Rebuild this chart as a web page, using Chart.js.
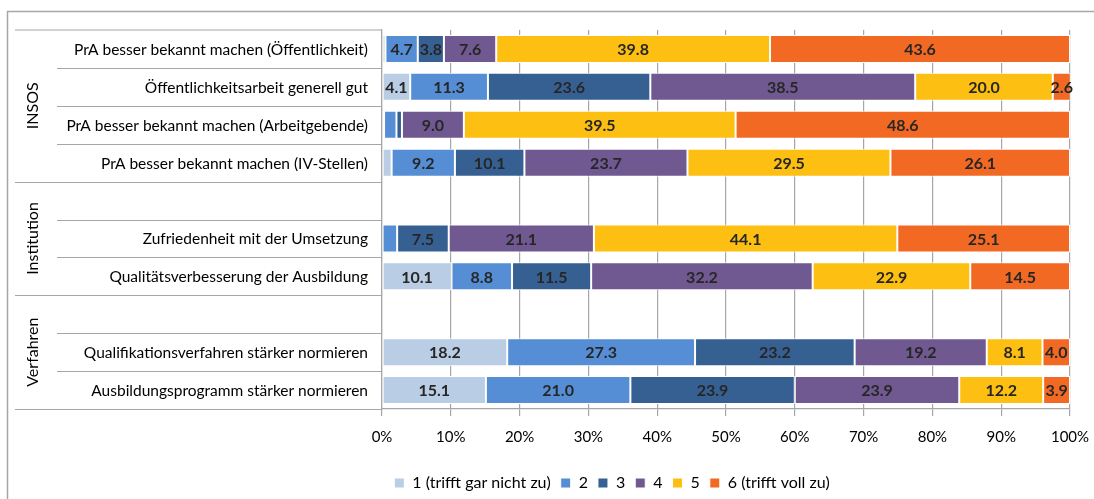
<!DOCTYPE html>
<html>
<head>
<meta charset="utf-8">
<script src="https://cdn.jsdelivr.net/npm/chart.js@4.4.0/dist/chart.umd.min.js"></script>
<style>
  html, body { margin: 0; padding: 0; background: #fff; }
  #wrap { width: 1094px; height: 499px; position: relative; }
</style>
</head>
<body>
<div id="wrap"><canvas id="chart"></canvas></div>
<script>
// Kategorien (leere Einträge = Abstand zwischen Gruppen)
const categories = [
  'PrA besser bekannt machen (Öffentlichkeit)',
  'Öffentlichkeitsarbeit generell gut',
  'PrA besser bekannt machen (Arbeitgebende)',
  'PrA besser bekannt machen (IV-Stellen)',
  '',
  'Zufriedenheit mit der Umsetzung',
  'Qualitätsverbesserung der Ausbildung',
  '',
  'Qualifikationsverfahren stärker normieren',
  'Ausbildungsprogramm stärker normieren'
];
const groupNames = ['INSOS', 'Institution', 'Verfahren'];
const groupFirst = [0, 4, 7];
const groupLast = [3, 6, 9];

const seriesNames = ['1 (trifft gar nicht zu)', '2', '3', '4', '5', '6 (trifft voll zu)'];
const s1 = [0.5, 4.1, 0.3, 1.4, null, 0, 10.1, null, 18.2, 15.1];
const s2 = [4.7, 11.3, 1.8, 9.2, null, 2.2, 8.8, null, 27.3, 21.0];
const s3 = [3.8, 23.6, 0.8, 10.1, null, 7.5, 11.5, null, 23.2, 23.9];
const s4 = [7.6, 38.5, 9.0, 23.7, null, 21.1, 32.2, null, 19.2, 23.9];
const s5 = [39.8, 20.0, 39.5, 29.5, null, 44.1, 22.9, null, 8.1, 12.2];
const s6 = [43.6, 2.6, 48.6, 26.1, null, 25.1, 14.5, null, 4.0, 3.9];
const xTicks = [0, 10, 20, 30, 40, 50, 60, 70, 80, 90, 100];

const colors = ['#B9CDE5', '#558ED5', '#366092', '#705890', '#FDBF11', '#F26924'];
const lineGray = '#a6a6a6';

Chart.defaults.font.family = 'Lato, "Liberation Sans", sans-serif';
Chart.defaults.color = '#000';

// Tabellenlinien, Beschriftungen, Gruppennamen, Rahmen und Werte
const decorations = {
  id: 'decorations',
  afterDraw(chart) {
    const ctx = chart.ctx;
    const area = chart.chartArea;
    const y = chart.scales.y;
    const rowH = y.getPixelForValue(1) - y.getPixelForValue(0);
    ctx.save();

    // Rahmen
    ctx.strokeStyle = lineGray;
    ctx.lineWidth = 1.5;
    ctx.beginPath();
    ctx.moveTo(7.5, 499);
    ctx.lineTo(7.5, 11.5);
    ctx.lineTo(1094, 11.5);
    ctx.stroke();

    // Linien der Beschriftungstabelle
    ctx.lineWidth = 1.2;
    ctx.beginPath();
    ctx.moveTo(15, area.top);
    ctx.lineTo(area.left, area.top);
    for (let i = 0; i < categories.length; i++) {
      const yb = y.getPixelForValue(i) + rowH / 2;
      const isGroupEnd = groupLast.includes(i);
      ctx.moveTo(isGroupEnd ? 15 : 57, Math.round(yb) + 0.5);
      ctx.lineTo(area.left, Math.round(yb) + 0.5);
    }
    ctx.stroke();

    // Kategorienbeschriftung
    ctx.fillStyle = '#000';
    ctx.font = '15.5px Lato, sans-serif';
    ctx.textAlign = 'right';
    ctx.textBaseline = 'middle';
    categories.forEach((c, i) => {
      if (c) ctx.fillText(c, area.left - 14, y.getPixelForValue(i) + 1);
    });

    // Gruppennamen senkrecht
    ctx.font = '16px Lato, sans-serif';
    ctx.textAlign = 'center';
    groupNames.forEach((name, g) => {
      const top = y.getPixelForValue(groupFirst[g]) - rowH / 2;
      const bottom = y.getPixelForValue(groupLast[g]) + rowH / 2;
      ctx.save();
      ctx.translate(33, (top + bottom) / 2);
      ctx.rotate(-Math.PI / 2);
      ctx.fillText(name, 0, 0);
      ctx.restore();
    });

    // Werte in den Balken
    ctx.font = 'bold 16px Lato, sans-serif';
    ctx.fillStyle = '#262626';
    chart.data.datasets.forEach((ds, di) => {
      const meta = chart.getDatasetMeta(di);
      meta.data.forEach((bar, i) => {
        const v = ds.data[i];
        if (v == null || v < 2.5) return;
        ctx.fillText(v.toFixed(1), (bar.x + bar.base) / 2, bar.y + 1);
      });
    });
    ctx.restore();
  }
};

new Chart(document.getElementById('chart'), {
  type: 'bar',
  data: {
    labels: categories,
    datasets: [s1, s2, s3, s4, s5, s6].map((d, i) => ({
      label: seriesNames[i],
      data: d,
      backgroundColor: colors[i],
      borderColor: '#ffffff',
      borderWidth: 1,
      borderSkipped: false,
      barPercentage: 0.74,
      categoryPercentage: 1
    }))
  },
  options: {
    indexAxis: 'y',
    responsive: true,
    maintainAspectRatio: false,
    animation: false,
    layout: { padding: { left: 154, right: 24, top: 30, bottom: -2 } },
    scales: {
      x: {
        stacked: true,
        min: 0,
        max: 100,
        afterBuildTicks: (s) => { s.ticks = xTicks.map(v => ({ value: v })); },
        ticks: {
          callback: (v) => v + '%',
          font: { size: 15 },
          padding: 12,
          maxRotation: 0
        },
        grid: { color: lineGray, lineWidth: 1.2, tickLength: 7 },
        border: { display: true, color: lineGray, width: 1.2 },
        afterFit: (s) => { s.height = 56; s.paddingRight = 0; s.paddingLeft = 0; }
      },
      y: {
        stacked: true,
        ticks: { display: false },
        grid: { display: false, drawTicks: false },
        border: { display: true, color: lineGray, width: 1.2 },
        afterFit: (s) => { s.width = 228; }
      }
    },
    plugins: {
      legend: {
        position: 'bottom',
        labels: { boxWidth: 10, boxHeight: 10, font: { size: 16 }, padding: 10 }
      },
      tooltip: { enabled: false }
    }
  },
  plugins: [decorations]
});
</script>
</body>
</html>
